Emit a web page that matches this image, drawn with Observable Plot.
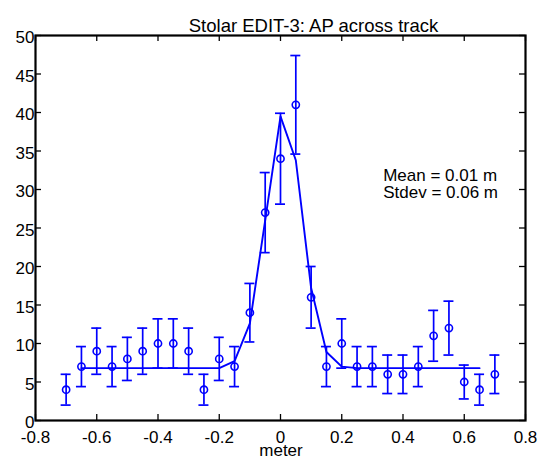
<!DOCTYPE html>
<html><head><meta charset="utf-8">
<script src="https://cdn.jsdelivr.net/npm/d3@7"></script>
<script src="https://cdn.jsdelivr.net/npm/@observablehq/plot@0.6"></script>
<style>html,body{margin:0;padding:0;background:#fff}</style>
</head><body><div id="chart"></div>
<script>
const titleText = "Stolar EDIT-3: AP across track";
const xLabel = "meter";
const statsText = "Mean = 0.01 m\nStdev = 0.06 m";
const xTicks = [-0.8, -0.6, -0.4, -0.2, 0, 0.2, 0.4, 0.6, 0.8];
const yTicks = [0, 5, 10, 15, 20, 25, 30, 35, 40, 45, 50];

// histogram bins (circles with error bars)
const binX = [-0.7, -0.65, -0.6, -0.55, -0.5, -0.45, -0.4, -0.35, -0.3, -0.25, -0.2, -0.15, -0.1, -0.05,
              0, 0.05, 0.1, 0.15, 0.2, 0.25, 0.3, 0.35, 0.4, 0.45, 0.5, 0.55, 0.6, 0.65, 0.7];
const binCount = [4, 7, 9, 7, 8, 9, 10, 10, 9, 4, 8, 7, 14, 27,
                  34, 41, 16, 7, 10, 7, 7, 6, 6, 7, 11, 12, 5, 4, 6];
const binErr = [2, 2.6, 3, 2.6, 2.8, 3, 3.2, 3.2, 3, 2, 2.8, 2.6, 3.8, 5.2,
                5.9, 6.4, 4, 2.6, 3.2, 2.6, 2.6, 2.5, 2.5, 2.6, 3.3, 3.5, 2.2, 2, 2.5];

// fitted curve
const fitX = [-0.65, -0.6, -0.55, -0.5, -0.45, -0.4, -0.35, -0.3, -0.25, -0.2, -0.15, -0.1, -0.05,
              0, 0.05, 0.1, 0.15, 0.2, 0.25, 0.3, 0.35, 0.4, 0.45, 0.5, 0.55, 0.6, 0.65];
const fitY = [6.8, 6.8, 6.8, 6.8, 6.8, 6.8, 6.8, 6.8, 6.8, 6.8, 7.7, 12.6, 26,
              39.5, 33.8, 17.2, 8.9, 7.0, 6.8, 6.8, 6.8, 6.8, 6.8, 6.8, 6.8, 6.8, 6.8];

const points = binX.map((x, i) => ({x, y: binCount[i], lo: binCount[i] - binErr[i], hi: binCount[i] + binErr[i]}));
const fit = fitX.map((x, i) => ({x, y: fitY[i]}));
const blue = "#0000ff";

const W = 548, H = 466, mL = 35, mR = 23, mT = 35, mB = 46;
const fw = W - mL - mR, fh = H - mT - mB, tk = 6;

const chart = Plot.plot({
  width: W, height: H,
  marginLeft: mL, marginRight: mR, marginTop: mT, marginBottom: mB,
  x: {domain: [-0.8, 0.8]},
  y: {domain: [0, 50]},
  style: {fontFamily: "'Liberation Sans', Arial, sans-serif", fontSize: "17px", background: "white", color: "black", overflow: "visible"},
  marks: [
    Plot.axisX({ticks: xTicks, tickSize: 0, tickPadding: 10, label: null, tickFormat: d => String(d), fontSize: 17}),
    Plot.axisY({ticks: yTicks, tickSize: 0, tickPadding: 1, dy: 2.5, label: null, tickFormat: d => String(d), fontSize: 17}),
    Plot.tickX(xTicks, {x: d => d, insetTop: fh - tk, stroke: "black", strokeWidth: 1.3}),
    Plot.tickX(xTicks, {x: d => d, insetBottom: fh - tk, stroke: "black", strokeWidth: 1.3}),
    Plot.tickY(yTicks, {y: d => d, insetRight: fw - tk, stroke: "black", strokeWidth: 1.3}),
    Plot.tickY(yTicks, {y: d => d, insetLeft: fw - tk, stroke: "black", strokeWidth: 1.3}),
    Plot.frame({stroke: "black", strokeWidth: 2.2}),
    Plot.line(fit, {x: "x", y: "y", stroke: blue, strokeWidth: 1.9}),
    Plot.ruleX(points, {x: "x", y1: "lo", y2: "hi", stroke: blue, strokeWidth: 1.7}),
    Plot.ruleY(points, {y: "hi", x1: "x", x2: "x", insetLeft: -5, insetRight: -5, stroke: blue, strokeWidth: 1.7}),
    Plot.ruleY(points, {y: "lo", x1: "x", x2: "x", insetLeft: -5, insetRight: -5, stroke: blue, strokeWidth: 1.7}),
    Plot.dot(points, {x: "x", y: "y", r: 3.6, stroke: blue, strokeWidth: 1.6, fill: "none"}),
    Plot.text([titleText], {frameAnchor: "top", dx: 33, dy: -16.3, fontSize: 18.5, textAnchor: "middle", fill: "black"}),
    Plot.text([xLabel], {frameAnchor: "bottom", dx: 0.5, dy: 35, fontSize: 17, textAnchor: "middle", fill: "black"}),
    Plot.text([statsText], {frameAnchor: "top-left", dx: 347.7, dy: 133, fontSize: 17, textAnchor: "start", lineAnchor: "top", lineHeight: 1, fill: "black"})
  ]
});
document.getElementById("chart").appendChild(chart);
</script>
</body></html>
